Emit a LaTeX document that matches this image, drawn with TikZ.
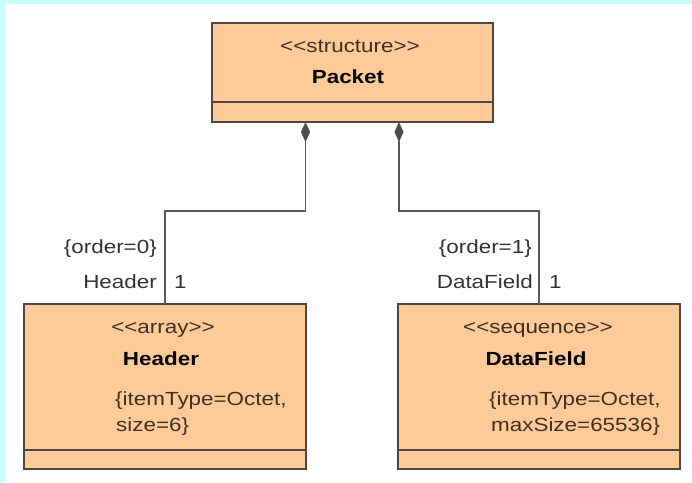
\documentclass[tikz,border=0pt]{standalone}
\usepackage{fontspec}
\setmainfont{Liberation Sans}[FakeStretch=1.18]
\usetikzlibrary{arrows.meta}

\definecolor{framecyan}{RGB}{200,255,255}
\definecolor{peach}{RGB}{254,203,152}
\definecolor{edgegray}{RGB}{80,72,64}
\definecolor{wiregray}{RGB}{88,88,88}
\definecolor{boxink}{RGB}{62,48,34}
\definecolor{labelink}{RGB}{50,50,50}

% stereotype text with plain angle brackets (kerns keep them from merging)
\newcommand{\stereotype}[1]{<\kern0pt<#1>\kern0pt>}

\begin{document}
\begin{tikzpicture}[x=1pt,y=-1pt,
  classbox/.style={draw=edgegray, fill=peach, line width=1.3pt,
    inner sep=0pt, outer sep=0pt, anchor=north west},
  divider/.style={draw=edgegray, line width=1.3pt},
  comp/.style={draw=wiregray, line width=1.3pt,
    -{Diamond[length=20pt,width=9pt,fill=wiregray!85!black,line width=0.4pt]}},
  basetext/.style={font=\fontsize{19}{23}\selectfont, inner sep=0pt},
  stereo/.style={basetext, text=boxink, anchor=base},
  cname/.style={basetext, text=black, font=\fontsize{19}{23}\selectfont\bfseries, anchor=base},
  constr/.style={basetext, text=boxink, anchor=base west},
  rolelabel/.style={basetext, text=labelink, anchor=base east},
  mult/.style={basetext, text=labelink, anchor=base west}]

% canvas with cyan strips on top and left
\useasboundingbox (0,0) rectangle (692,482);
\fill[white] (0,0) rectangle (692,482);
\fill[framecyan] (0,0) rectangle (692,4);
\fill[framecyan] (0,0) rectangle (5,482);

% classes
\node[classbox, minimum width=281pt, minimum height=99pt] (packet) at (212,23) {};
\node[classbox, minimum width=282pt, minimum height=165pt] (hdr) at (24,304) {};
\node[classbox, minimum width=282pt, minimum height=165pt] (dfield) at (398,304) {};

% compartment dividers
\draw[divider] ([yshift=20pt]packet.south west) -- ([yshift=20pt]packet.south east);
\draw[divider] ([yshift=19pt]hdr.south west) -- ([yshift=19pt]hdr.south east);
\draw[divider] ([yshift=19pt]dfield.south west) -- ([yshift=19pt]dfield.south east);

% class texts
\node[stereo] (pst) at (350,52) {\stereotype{structure}};
\node[cname] (pnm) at (348,83) {Packet};

\node[stereo] (hst) at (163,333) {\stereotype{array}};
\node[cname] (hnm) at (161,365) {Header};
\node[constr] (hc1) at (115,405) {\{itemType=Octet,};
\node[constr] (hc2) at (116,431) {size=6\}};

\node[stereo] (dst) at (538,333) {\stereotype{sequence}};
\node[cname] (dnm) at (536,365) {DataField};
\node[constr] (dc1) at (489,405) {\{itemType=Octet,};
\node[constr] (dc2) at (491,431) {maxSize=65536\}};

% composition connectors
\draw[comp] (hdr.north) -- ++(0,-93) -| ([xshift=-47pt]packet.south);
\draw[comp] (dfield.north) -- ++(0,-93) -| ([xshift=46.5pt]packet.south);

% association end labels
\node[rolelabel] (ord0) at (157,253) {\{order=0\}};
\node[rolelabel] (role0) at (157,288) {Header};
\node[mult] (mul0) at (174,288) {1};

\node[rolelabel] (ord1) at (532,253) {\{order=1\}};
\node[rolelabel] (role1) at (533,288) {DataField};
\node[mult] (mul1) at (549,288) {1};
\end{tikzpicture}
\end{document}
